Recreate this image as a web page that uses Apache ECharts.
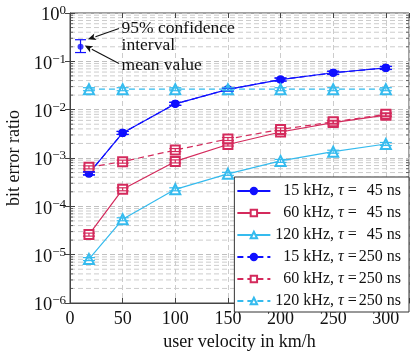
<!DOCTYPE html>
<html><head><meta charset="utf-8">
<script src="https://cdn.jsdelivr.net/npm/echarts@6/dist/echarts.min.js"></script>
<style>html,body{margin:0;padding:0;background:#fff}#c{width:415px;height:356px}</style>
</head><body><div id="c"></div>
<script>
// ---------------- data ----------------
const velocities = [18, 50, 100, 150, 200, 250, 300];
const ber15k45  = [4.8e-4, 3.3e-3, 1.32e-2, 2.62e-2, 4.2e-2, 5.8e-2, 7.3e-2];
const ber60k45  = [2.6e-5, 2.25e-4, 8.5e-4, 1.9e-3, 3.45e-3, 5.4e-3, 7.7e-3];
const ber120k45 = [8.1e-6, 5.4e-5, 2.25e-4, 4.7e-4, 8.7e-4, 1.35e-3, 1.95e-3];
const ber15k250 = [4.8e-4, 3.3e-3, 1.32e-2, 2.62e-2, 4.2e-2, 5.8e-2, 7.3e-2];
const ber60k250 = [6.4e-4, 8.4e-4, 1.46e-3, 2.47e-3, 3.9e-3, 5.6e-3, 8.0e-3];
const ber120k250 = [2.65e-2, 2.65e-2, 2.65e-2, 2.65e-2, 2.65e-2, 2.65e-2, 2.65e-2];
const legendBandwidths = ['15', '60', '120', '15', '60', '120'];
const legendDelays = ['45', '45', '45', '250', '250', '250'];
const exampleVelocity = [10];
const exampleMean = [0.2];
const exampleCiLow = [0.152];
const exampleCiHigh = [0.28];
const annotationTexts = ['95% confidence', 'interval', 'mean value'];
const annotationX = [49, 49, 49];
const annotationY = [0.47, 0.21, 0.083];
const arrowFrom = [[46.5, 0.48], [46.5, 0.09]];
const arrowTo = [[17, 0.285], [14, 0.212]];
const xTicks = [0, 50, 100, 150, 200, 250, 300];
const yDecades = [1e-6, 1e-5, 1e-4, 1e-3, 1e-2, 1e-1, 1];

// ---------------- styles ----------------
const FONT = 'Liberation Serif';
const BLUE = '#1010ff', RED = '#d42a5c', CYAN = '#35bbee';
const defs = [
  {data: ber15k45, color: BLUE, symbol: 'circle', size: 7, type: 'solid'},
  {data: ber60k45, color: RED, symbol: 'emptyRect', size: 9, type: 'solid'},
  {data: ber120k45, color: CYAN, symbol: 'emptyTriangle', size: 10, type: 'solid'},
  {data: ber15k250, color: BLUE, symbol: 'circle', size: 7, type: [6, 4]},
  {data: ber60k250, color: RED, symbol: 'emptyRect', size: 9, type: [6, 4]},
  {data: ber120k250, color: CYAN, symbol: 'emptyTriangle', size: 10, type: [6, 4]}
];
const names = legendBandwidths.map((b, i) => b + ' kHz, τ = ' + legendDelays[i] + ' ns');

// minor grid values (2..9 per decade)
const minorVals = [];
for (let d = 0; d < yDecades.length - 1; d++) for (let k = 2; k <= 9; k++) minorVals.push(yDecades[d] * k);

const series = [];
// minor grid + minor ticks
series.push({
  type: 'custom', silent: true, z: 0, clip: false,
  data: minorVals.map(v => [0, v]),
  renderItem: (params, api) => {
    const cs = params.coordSys;
    const y = api.coord([0, api.value(1)])[1];
    return {type: 'group', children: [
      {type: 'line', shape: {x1: cs.x, y1: y, x2: cs.x + cs.width, y2: y}, style: {stroke: '#cccccc', lineWidth: 1, lineDash: [5, 3]}},
      {type: 'line', shape: {x1: cs.x, y1: y, x2: cs.x + 3, y2: y}, style: {stroke: '#444', lineWidth: 0.8}},
      {type: 'line', shape: {x1: cs.x + cs.width - 3, y1: y, x2: cs.x + cs.width, y2: y}, style: {stroke: '#444', lineWidth: 0.8}}
    ]};
  }
});
defs.forEach((d, i) => {
  series.push({
    name: names[i], type: 'line', z: 3 + i,
    data: velocities.map((v, j) => [v, d.data[j]]),
    symbol: d.symbol, symbolSize: d.size, showSymbol: true,
    lineStyle: {color: d.color, width: 1.2, type: d.type},
    itemStyle: {color: d.color, borderColor: d.color, borderWidth: 1.2},
    emphasis: {disabled: true}, animation: false
  });
  // small confidence caps around each mark
  series.push({
    type: 'custom', silent: true, z: 20 + i,
    data: velocities.map((v, j) => [v, d.data[j]]),
    renderItem: (params, api) => {
      const p = api.coord([api.value(0), api.value(1)]);
      const st = {stroke: d.color, lineWidth: 1.2};
      return {type: 'group', children: [
        {type: 'line', shape: {x1: p[0] - 6, y1: p[1] - 1.5, x2: p[0] + 6, y2: p[1] - 1.5}, style: st},
        {type: 'line', shape: {x1: p[0] - 6, y1: p[1] + 1.5, x2: p[0] + 6, y2: p[1] + 1.5}, style: st},
        {type: 'line', shape: {x1: p[0], y1: p[1] - 1.5, x2: p[0], y2: p[1] + 1.5}, style: st}
      ]};
    }
  });
});
// example mean value with 95% CI
series.push({
  type: 'scatter', silent: true, z: 30, symbol: 'circle', symbolSize: 6,
  itemStyle: {color: BLUE},
  data: exampleVelocity.map((v, i) => [v, exampleMean[i]])
});
series.push({
  type: 'custom', silent: true, z: 29,
  data: exampleVelocity.map((v, i) => [v, exampleCiLow[i], exampleCiHigh[i]]),
  renderItem: (params, api) => {
    const lo = api.coord([api.value(0), api.value(1)]);
    const hi = api.coord([api.value(0), api.value(2)]);
    const st = {stroke: BLUE, lineWidth: 1.2};
    return {type: 'group', children: [
      {type: 'line', shape: {x1: lo[0], y1: lo[1], x2: hi[0], y2: hi[1]}, style: st},
      {type: 'line', shape: {x1: lo[0] - 5.5, y1: lo[1], x2: lo[0] + 5.5, y2: lo[1]}, style: st},
      {type: 'line', shape: {x1: hi[0] - 5.5, y1: hi[1], x2: hi[0] + 5.5, y2: hi[1]}, style: st}
    ]};
  }
});
// annotation texts
series.push({
  type: 'custom', silent: true, z: 40, clip: false,
  data: annotationTexts.map((t, i) => [annotationX[i], annotationY[i], i]),
  renderItem: (params, api) => {
    const p = api.coord([api.value(0), api.value(1)]);
    return {type: 'text', x: p[0], y: p[1], style: {text: annotationTexts[api.value(2)], fontFamily: FONT, fontSize: 17.5, fill: '#111', textAlign: 'left', textVerticalAlign: 'middle'}};
  }
});
// arrows
series.push({
  type: 'custom', silent: true, z: 41, clip: false,
  data: arrowFrom.map((f, i) => [f[0], f[1], arrowTo[i][0], arrowTo[i][1]]),
  renderItem: (params, api) => {
    const a = api.coord([api.value(0), api.value(1)]);
    const b = api.coord([api.value(2), api.value(3)]);
    const ang = Math.atan2(b[1] - a[1], b[0] - a[0]);
    const L = 8, W = 3.5;
    const bx = b[0] - L * Math.cos(ang), by = b[1] - L * Math.sin(ang);
    const nx = -Math.sin(ang) * W, ny = Math.cos(ang) * W;
    return {type: 'group', children: [
      {type: 'line', shape: {x1: a[0], y1: a[1], x2: bx, y2: by}, style: {stroke: '#111', lineWidth: 1.1}},
      {type: 'polygon', shape: {points: [[b[0], b[1]], [bx + nx, by + ny], [bx + 2 * Math.cos(ang), by + 2 * Math.sin(ang)], [bx - nx, by - ny]]}, style: {fill: '#111'}}
    ]};
  }
});

const supFmt = v => {
  const e = Math.round(Math.log10(v));
  return '{b|10}{s|' + (e < 0 ? '\u2212' + (-e) : String(e)) + '}';
};

const LF = 16;
const DIGIT = LF * 0.5;
const legendRich = {
  t: {fontFamily: FONT, fontSize: LF, fontStyle: 'italic', padding: [0, 0, 0, 4], lineHeight: 14},
  e: {fontFamily: FONT, fontSize: LF, padding: [0, 0, 0, 4], lineHeight: 14},
  u: {fontFamily: FONT, fontSize: LF, padding: [0, 0, 0, 0], lineHeight: 14}
};
[0, 1, 2].forEach(k => {
  legendRich['f' + k] = {fontFamily: FONT, fontSize: LF, padding: [0, 0, 0, k * DIGIT], lineHeight: 14};
  legendRich['n' + k] = {fontFamily: FONT, fontSize: LF, padding: [0, 0, 0, 2 + k * DIGIT], lineHeight: 14};
});

const option = {
  animation: false,
  backgroundColor: '#fff',
  grid: {left: 70, right: 6, top: 13, bottom: 53, outerBoundsMode: 'none', containLabel: false, show: true, borderColor: '#444', borderWidth: 1, backgroundColor: 'transparent'},
  xAxis: [{
    type: 'value', min: 0, max: 322, interval: 50,
    axisLine: {show: true, lineStyle: {color: '#444'}},
    axisTick: {show: true, inside: true, length: 5, lineStyle: {color: '#444'}},
    splitLine: {show: true, lineStyle: {color: '#cccccc', type: [5, 3]}},
    axisLabel: {formatter: v => (xTicks.indexOf(v) >= 0 ? String(v) : ''), fontFamily: FONT, fontSize: 18, color: '#111', margin: 7},
    name: 'user velocity in km/h', nameLocation: 'middle', nameGap: 29,
    nameTextStyle: {fontFamily: FONT, fontSize: 18, color: '#111'}
  }, {
    type: 'value', position: 'top', min: 0, max: 322, interval: 50,
    axisLine: {show: false}, axisLabel: {show: false}, splitLine: {show: false},
    axisTick: {show: true, inside: true, length: 5, lineStyle: {color: '#444'}}
  }],
  yAxis: [{
    type: 'log', logBase: 10, min: 1e-6, max: 1,
    axisLine: {show: true, lineStyle: {color: '#444'}},
    axisTick: {show: true, inside: true, length: 5, lineStyle: {color: '#444'}},
    splitLine: {show: true, lineStyle: {color: '#c0c0c0', type: [5, 3]}},
    axisLabel: {formatter: supFmt, margin: 4, padding: [5, 0, 0, 0], rich: {
      b: {fontFamily: FONT, fontSize: 18.5, color: '#111', lineHeight: 18},
      s: {fontFamily: FONT, fontSize: 13, color: '#111', lineHeight: 13, padding: [0, 0, 9, 0]}
    }},
    name: 'bit error ratio', nameLocation: 'middle', nameGap: 47,
    nameTextStyle: {fontFamily: FONT, fontSize: 18, color: '#111'}
  }, {
    type: 'log', logBase: 10, min: 1e-6, max: 1, position: 'right',
    axisLine: {show: false}, axisLabel: {show: false}, splitLine: {show: false},
    axisTick: {show: true, inside: true, length: 5, lineStyle: {color: '#444'}}
  }],
  legend: {
    orient: 'vertical', right: 6, top: 177,
    data: names,
    itemWidth: 33, itemHeight: 8, itemGap: 6,
    padding: [6, 8, 3, 2],
    backgroundColor: '#fff', borderColor: '#333', borderWidth: 1, borderRadius: 0,
    selectedMode: false,
    formatter: name => {
      const i = names.indexOf(name);
      const b = legendBandwidths[i], t = legendDelays[i];
      return '{f' + (3 - b.length) + '|' + b + ' kHz,}{t|τ}{e|=}{n' + (3 - t.length) + '|' + t + '}{u| ns}';
    },
    textStyle: {fontFamily: FONT, fontSize: LF, color: '#111', lineHeight: 14, rich: legendRich}
  },
  series: series
};
const chart = echarts.init(document.getElementById('c'));
chart.setOption(option);
</script>
</body></html>
